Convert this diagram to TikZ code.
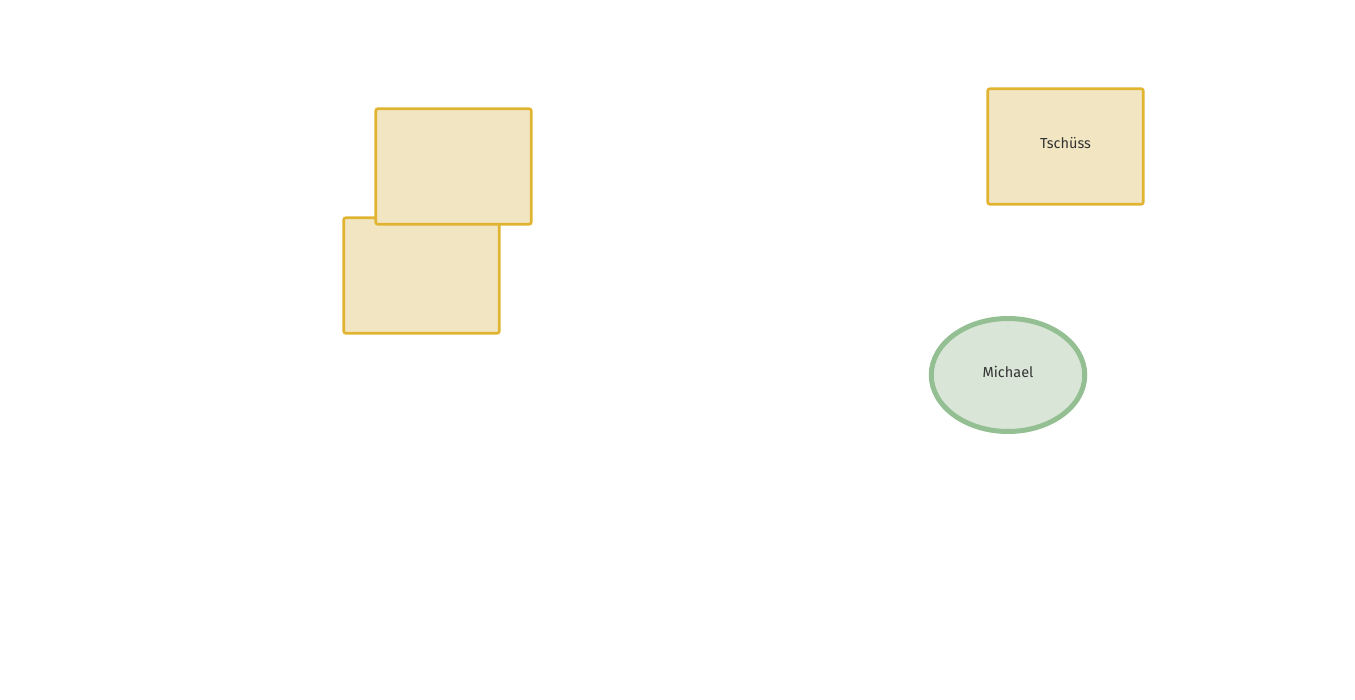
\documentclass[tikz,border=0pt]{standalone}
\usepackage{fontspec}
\setmainfont{Fira Sans}
\definecolor{boxfill}{HTML}{F2E6C2}
\definecolor{boxline}{HTML}{E0B430}
\definecolor{ellfill}{HTML}{D9E5D6}
\definecolor{ellline}{HTML}{93BF92}
\definecolor{txt}{HTML}{333333}
\usetikzlibrary{shapes.geometric}
\begin{document}
\begin{tikzpicture}[x=1pt,y=-1pt,
  yellowbox/.style={draw=boxline,fill=boxfill,line width=2.6pt,rounded corners=2pt,
    minimum width=155.5pt,minimum height=115.5pt,inner sep=0pt},
  greenell/.style={ellipse,draw=ellline,fill=ellfill,line width=5pt,
    minimum width=153.5pt,minimum height=113pt,inner sep=0pt},
  lbl/.style={inner sep=0pt,text=txt,font=\fontsize{14.5}{16}\selectfont}]
\useasboundingbox (0,0) rectangle (1355,700);
\node[yellowbox] (a) at (421.5,275.5) {};
\node[yellowbox] (b) at (453.5,166.5) {};
\node[yellowbox] (c) at (1065.5,146.5) {};
\node[lbl] (ct) at ([yshift=3pt]c.center) {Tschüss};
\node[greenell] (d) at (1008,375) {};
\node[lbl] (dt) at ([yshift=3pt]d.center) {Michael};
\end{tikzpicture}
\end{document}
